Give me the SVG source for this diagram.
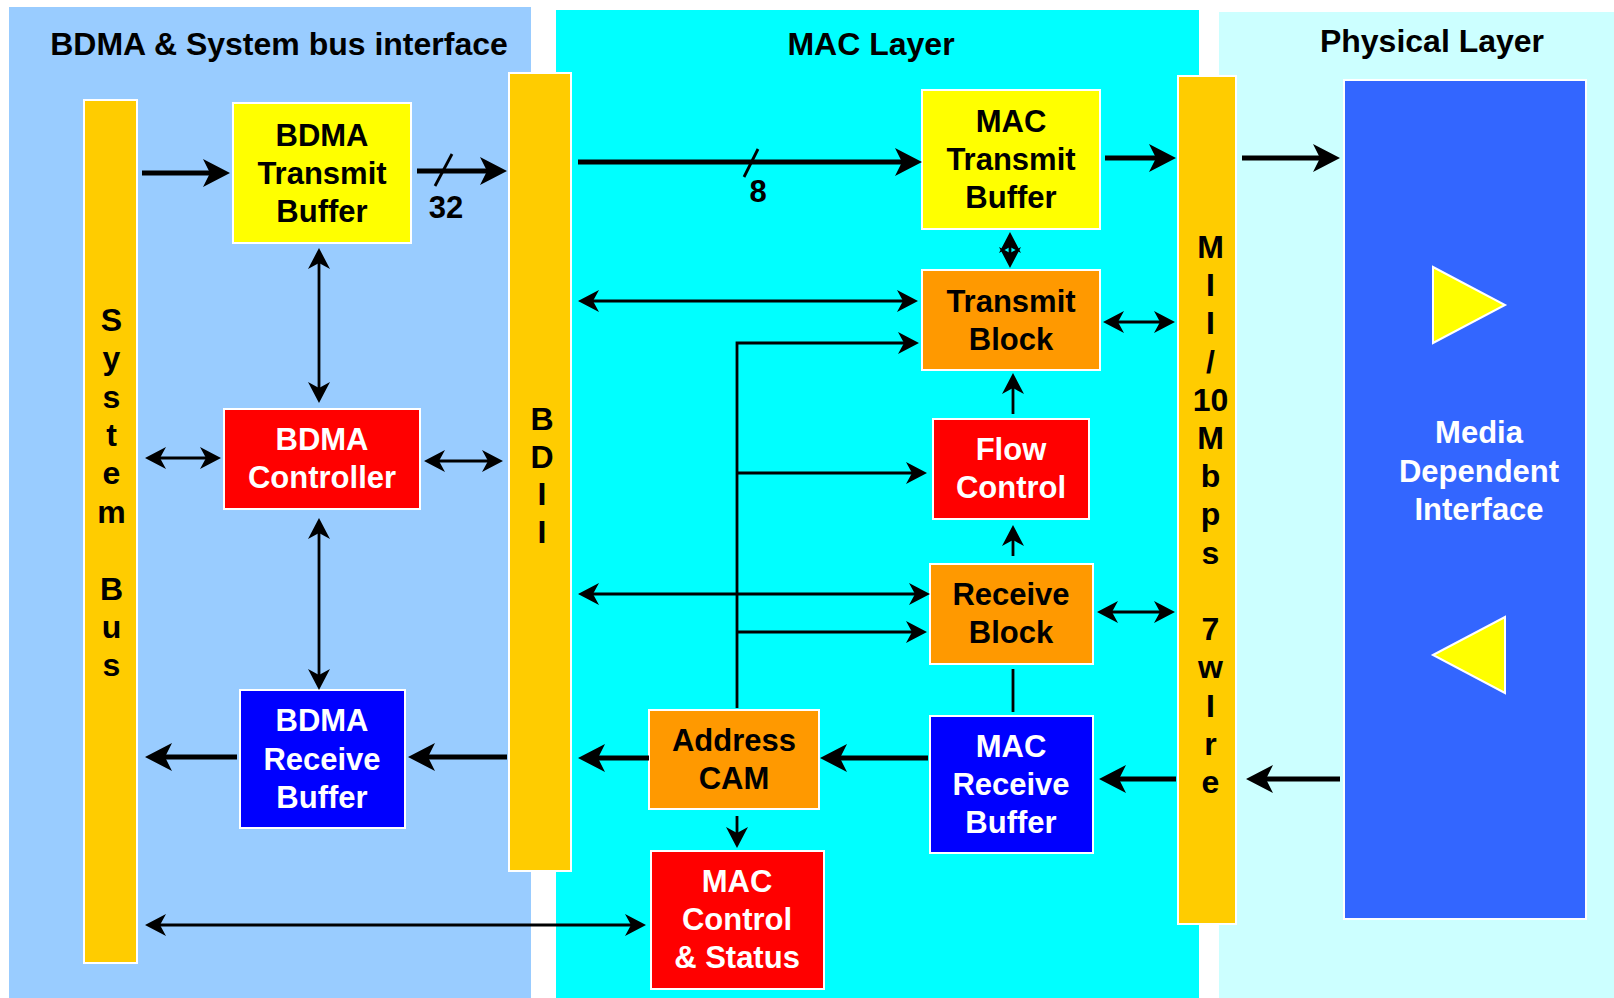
<svg xmlns="http://www.w3.org/2000/svg" width="1614" height="998" viewBox="0 0 1614 998">
<style>
text{font-family:"Liberation Sans",Arial,sans-serif;font-weight:bold;text-anchor:middle}
.t{font-size:32px;fill:#000}
.n{font-size:31px}
.b{font-size:32px;fill:#000}
.dk{fill:#000}
.wt{fill:#fff}
.box{stroke:#fff;stroke-width:2}
.thick{stroke:#000;stroke-width:5;fill:none}
.thin{stroke:#000;stroke-width:2.8;fill:none}
</style>
<defs>
<marker id="ah" markerUnits="userSpaceOnUse" markerWidth="40" markerHeight="40" viewBox="-30 -20 40 40" refX="0" refY="0" orient="auto-start-reverse">
<path d="M10,0 L-17,-14 L-10,0 L-17,14 Z" fill="#000"/>
</marker>
<marker id="as" markerUnits="userSpaceOnUse" markerWidth="30" markerHeight="30" viewBox="-20 -15 30 30" refX="0" refY="0" orient="auto-start-reverse">
<path d="M6,0 L-15,-11 L-9,0 L-15,11 Z" fill="#000"/>
</marker>
</defs>
<rect width="1614" height="998" fill="#fff"/>
<g id="panels">
<rect x="9" y="7" width="522" height="991" fill="#99CCFF"/>
<rect x="556" y="10" width="643" height="988" fill="#00FFFF"/>
<rect x="1219" y="12" width="395" height="986" fill="#CCFFFF"/>
<text class="t" x="279" y="55">BDMA &amp; System bus interface</text>
<text class="t" x="871" y="55">MAC Layer</text>
<text class="t" x="1432" y="52">Physical Layer</text>
</g>
<g id="system-bus">
<rect class="box" x="84" y="100" width="53" height="863" fill="#FFCC00"/>
<text class="b"><tspan x="111.5" y="331">S</tspan><tspan x="111.5" y="369">y</tspan><tspan x="111.5" y="408">s</tspan><tspan x="111.5" y="446">t</tspan><tspan x="111.5" y="484">e</tspan><tspan x="111.5" y="523">m</tspan><tspan x="111.5" y="600">B</tspan><tspan x="111.5" y="638">u</tspan><tspan x="111.5" y="676">s</tspan></text>
</g>
<g id="bdii">
<rect class="box" x="509" y="73" width="62" height="798" fill="#FFCC00"/>
<text class="b"><tspan x="542" y="430">B</tspan><tspan x="542" y="468">D</tspan><tspan x="542" y="505">I</tspan><tspan x="542" y="543">I</tspan></text>
</g>
<g id="mii">
<rect class="box" x="1178" y="76" width="58" height="848" fill="#FFCC00"/>
<text class="b"><tspan x="1210.5" y="258">M</tspan><tspan x="1210.5" y="296">I</tspan><tspan x="1210.5" y="334">I</tspan><tspan x="1210.5" y="373">/</tspan><tspan x="1210.5" y="411">10</tspan><tspan x="1210.5" y="449">M</tspan><tspan x="1210.5" y="487">b</tspan><tspan x="1210.5" y="525">p</tspan><tspan x="1210.5" y="564">s</tspan><tspan x="1210.5" y="640">7</tspan><tspan x="1210.5" y="678">w</tspan><tspan x="1210.5" y="717">I</tspan><tspan x="1210.5" y="755">r</tspan><tspan x="1210.5" y="793">e</tspan></text>
</g>
<g id="bdma-transmit-buffer">
<rect class="box" x="233" y="103" width="178" height="140" fill="#FFFF00"/>
<text class="n dk"><tspan x="322" y="146">BDMA</tspan><tspan x="322" y="184">Transmit</tspan><tspan x="322" y="222">Buffer</tspan></text>
</g>
<g id="bdma-controller">
<rect class="box" x="224" y="409" width="196" height="100" fill="#FF0000"/>
<text class="n wt"><tspan x="322" y="450">BDMA</tspan><tspan x="322" y="488">Controller</tspan></text>
</g>
<g id="bdma-receive-buffer">
<rect class="box" x="240" y="690" width="165" height="138" fill="#0000FF"/>
<text class="n wt"><tspan x="322" y="731">BDMA</tspan><tspan x="322" y="770">Receive</tspan><tspan x="322" y="808">Buffer</tspan></text>
</g>
<g id="mac-transmit-buffer">
<rect class="box" x="922" y="90" width="178" height="139" fill="#FFFF00"/>
<text class="n dk"><tspan x="1011" y="132">MAC</tspan><tspan x="1011" y="170">Transmit</tspan><tspan x="1011" y="208">Buffer</tspan></text>
</g>
<g id="transmit-block">
<rect class="box" x="922" y="270" width="178" height="100" fill="#FF9900"/>
<text class="n dk"><tspan x="1011" y="312">Transmit</tspan><tspan x="1011" y="350">Block</tspan></text>
</g>
<g id="flow-control">
<rect class="box" x="933" y="419" width="156" height="100" fill="#FF0000"/>
<text class="n wt"><tspan x="1011" y="460">Flow</tspan><tspan x="1011" y="498">Control</tspan></text>
</g>
<g id="receive-block">
<rect class="box" x="930" y="564" width="163" height="100" fill="#FF9900"/>
<text class="n dk"><tspan x="1011" y="605">Receive</tspan><tspan x="1011" y="643">Block</tspan></text>
</g>
<g id="mac-receive-buffer">
<rect class="box" x="930" y="716" width="163" height="137" fill="#0000FF"/>
<text class="n wt"><tspan x="1011" y="757">MAC</tspan><tspan x="1011" y="795">Receive</tspan><tspan x="1011" y="833">Buffer</tspan></text>
</g>
<g id="address-cam">
<rect class="box" x="649" y="710" width="170" height="99" fill="#FF9900"/>
<text class="n dk"><tspan x="734" y="751">Address</tspan><tspan x="734" y="789">CAM</tspan></text>
</g>
<g id="mac-control-status">
<rect class="box" x="651" y="851" width="173" height="138" fill="#FF0000"/>
<text class="n wt"><tspan x="737" y="892">MAC</tspan><tspan x="737" y="930">Control</tspan><tspan x="737" y="968">&amp; Status</tspan></text>
</g>
<g id="media-dependent-interface">
<rect class="box" x="1344" y="80" width="242" height="839" fill="#3366FF"/>
<polygon points="1433,267 1505,305 1433,343" fill="#FFFF00" stroke="#fff" stroke-width="2"/>
<polygon points="1433,655 1505,617 1505,693" fill="#FFFF00" stroke="#fff" stroke-width="2"/>
<text class="n wt"><tspan x="1479" y="443">Media</tspan><tspan x="1479" y="482">Dependent</tspan><tspan x="1479" y="520">Interface</tspan></text>
</g>
<g id="connectors">
<path class="thick" d="M142,173 L220,173" marker-end="url(#ah)"/>
<path class="thick" d="M417,171 L497,171" marker-end="url(#ah)"/>
<path class="thin" d="M452,154 L435,186"/>
<text class="n dk" x="446" y="218">32</text>
<path class="thick" d="M578,162 L912,162" marker-end="url(#ah)"/>
<path class="thin" d="M758,149 L744,177"/>
<text class="n dk" x="758" y="202">8</text>
<path class="thick" d="M1105,158 L1166,158" marker-end="url(#ah)"/>
<path class="thick" d="M1242,158 L1330,158" marker-end="url(#ah)"/>
<path class="thick" d="M1340,779 L1256,779" marker-end="url(#ah)"/>
<path class="thick" d="M1176,779 L1109,779" marker-end="url(#ah)"/>
<path class="thick" d="M928,758 L830,758" marker-end="url(#ah)"/>
<path class="thick" d="M649,758 L588,758" marker-end="url(#ah)"/>
<path class="thick" d="M507,757 L418,757" marker-end="url(#ah)"/>
<path class="thick" d="M237,757 L155,757" marker-end="url(#ah)"/>
<path class="thin" d="M319,254 L319,397" marker-start="url(#as)" marker-end="url(#as)"/>
<path class="thin" d="M319,524 L319,684" marker-start="url(#as)" marker-end="url(#as)"/>
<path class="thin" d="M151,458 L215,458" marker-start="url(#as)" marker-end="url(#as)"/>
<path class="thin" d="M430,461 L497,461" marker-start="url(#as)" marker-end="url(#as)"/>
<path class="thin" d="M584,301 L912,301" marker-start="url(#as)" marker-end="url(#as)"/>
<path class="thin" d="M1109,322 L1169,322" marker-start="url(#as)" marker-end="url(#as)"/>
<path class="thin" d="M1010,238 L1010,262" marker-start="url(#as)" marker-end="url(#as)"/>
<path class="thin" d="M1013,414 L1013,379" marker-end="url(#as)"/>
<path class="thin" d="M1013,556 L1013,531" marker-end="url(#as)"/>
<path class="thin" d="M737,708 L737,343 L913,343" marker-end="url(#as)"/>
<path class="thin" d="M737,473 L921,473" marker-end="url(#as)"/>
<path class="thin" d="M737,632 L921,632" marker-end="url(#as)"/>
<path class="thin" d="M584,594 L924,594" marker-start="url(#as)" marker-end="url(#as)"/>
<path class="thin" d="M1103,612 L1169,612" marker-start="url(#as)" marker-end="url(#as)"/>
<path class="thin" d="M1013,669 L1013,712"/>
<path class="thin" d="M737,816 L737,842" marker-end="url(#as)"/>
<path class="thin" d="M151,925 L640,925" marker-start="url(#as)" marker-end="url(#as)"/>
</g>
</svg>
